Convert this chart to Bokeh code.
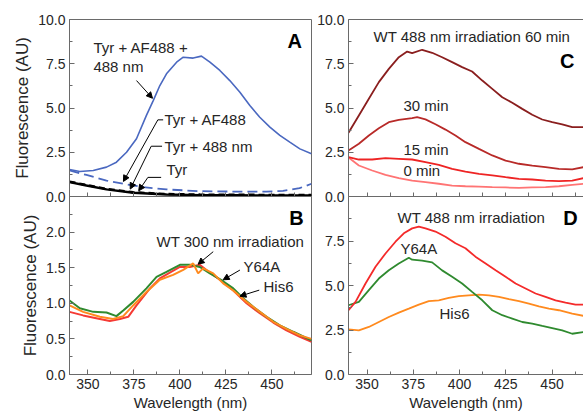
from bokeh.plotting import figure
from bokeh.layouts import column, row
from bokeh.models import Range1d, FixedTicker, NumeralTickFormatter, Arrow, NormalHead, LinearAxis
from bokeh.core.properties import value
from bokeh.embed import file_html
from bokeh.resources import INLINE

# ---------------- data ----------------
# Panel A
a_nm_blue = [340, 345.6, 352.9, 360.1, 365.5, 371.0, 376.4, 381.8, 385.5, 389.1, 392.7, 398.2, 401.8,
             407.2, 411.7, 416.3, 421.7, 427.1, 432.6, 438.0, 443.4, 448.9, 454.3, 459.7, 465.2, 471.5]
a_tyr_af_irr = [1.53, 1.41, 1.47, 1.66, 1.94, 2.5, 3.26, 4.58, 5.42, 6.27, 6.93, 7.59, 7.87,
                7.82, 7.93, 7.59, 7.12, 6.55, 5.89, 5.14, 4.48, 3.92, 3.45, 3.07, 2.69, 2.41]
a_nm_dash = [340, 349.2, 360.1, 369.2, 380.0, 392.7, 410.8, 429.0, 447.0, 456.0, 465.0, 471.5]
a_tyr_af = [1.47, 1.22, 0.90, 0.72, 0.53, 0.40, 0.30, 0.28, 0.28, 0.32, 0.47, 0.72]
a_nm_black = [340, 349.2, 360.1, 374.6, 392.7, 410.8, 430.0, 450.0, 471.5]
a_tyr = [0.81, 0.62, 0.40, 0.21, 0.11, 0.08, 0.07, 0.06, 0.06]
a_tyr_irr = [0.84, 0.65, 0.43, 0.24, 0.14, 0.11, 0.10, 0.09, 0.09]

# Panel B
b_nm_y64a = [340, 345.6, 352.9, 360.1, 365.5, 369.2, 374.6, 381.8, 387.3, 392.7, 400.0, 405.4, 410.8,
             416.3, 423.5, 429.0, 434.4, 439.8, 447.1, 454.3, 461.6, 471.5]
b_y64a = [1.04, 0.93, 0.88, 0.87, 0.82, 0.90, 1.02, 1.21, 1.37, 1.44, 1.54, 1.54, 1.51,
          1.42, 1.31, 1.21, 1.07, 0.95, 0.81, 0.69, 0.60, 0.48]
b_nm_wt = [340, 347.4, 356.5, 361.9, 367.4, 371.9, 376.4, 383.7, 389.1, 394.5, 400.0, 405.4, 410.8,
           416.3, 421.7, 429.0, 436.2, 443.4, 450.7, 457.9, 465.2, 471.5]
b_wt = [0.88, 0.83, 0.78, 0.75, 0.78, 0.81, 0.97, 1.21, 1.35, 1.43, 1.51, 1.51, 1.54,
        1.43, 1.33, 1.18, 1.00, 0.86, 0.73, 0.62, 0.53, 0.46]
b_nm_his6 = [340, 347.4, 356.5, 363.7, 369.2, 374.6, 381.8, 389.1, 396.3, 401.8, 407.2, 409.9, 412.6,
             418.1, 423.5, 429.0, 436.2, 443.4, 450.7, 457.9, 465.2, 471.5]
b_his6 = [0.97, 0.88, 0.81, 0.78, 0.82, 0.97, 1.16, 1.33, 1.40, 1.47, 1.56, 1.42, 1.49,
          1.42, 1.28, 1.18, 1.02, 0.88, 0.74, 0.64, 0.55, 0.50]

# Panel C
c_nm_60 = [340, 345.6, 351.0, 356.4, 361.8, 367.2, 371.7, 374.4, 379.8, 385.2, 390.6, 396.0, 401.4,
           406.8, 412.3, 417.7, 423.1, 428.5, 433.9, 439.3, 444.7, 450.1, 455.5, 460.9, 467.2]
c_60min = [3.6, 4.58, 5.52, 6.46, 7.21, 7.87, 8.19, 8.10, 8.29, 8.12, 7.87, 7.59, 7.31,
           7.06, 6.55, 6.08, 5.61, 5.3, 4.95, 4.62, 4.35, 4.2, 4.08, 3.92, 3.92]
c_nm_30 = [340, 345.6, 351.0, 356.4, 361.8, 367.2, 374.4, 377.1, 381.6, 387.0, 392.4, 397.8, 403.2,
           410.5, 417.7, 424.9, 432.1, 439.3, 446.5, 453.7, 460.9, 467.2]
c_30min = [2.6, 2.98, 3.45, 3.85, 4.2, 4.33, 4.43, 4.48, 4.36, 4.08, 3.78, 3.45, 3.07,
           2.69, 2.32, 2.03, 1.85, 1.75, 1.66, 1.56, 1.53, 1.66]
c_nm_low = [340, 345.6, 352.8, 360.0, 367.2, 374.4, 381.6, 388.8, 396.0, 403.2, 410.5, 417.7, 424.9,
            432.1, 439.3, 446.5, 453.7, 460.9, 467.2]
c_15min = [2.22, 2.09, 2.09, 2.17, 2.13, 2.09, 1.94, 1.79, 1.56, 1.41, 1.28, 1.19, 1.09,
           1.0, 0.96, 0.9, 0.87, 0.9, 1.04]
c_0min = [2.2, 1.75, 1.47, 1.22, 1.04, 0.9, 0.81, 0.72, 0.62, 0.58, 0.56, 0.53, 0.51,
          0.49, 0.51, 0.53, 0.58, 0.66, 0.72]

# Panel D
d_nm_wt = [340, 343.8, 349.2, 354.6, 360.0, 365.4, 369.9, 374.4, 378.0, 381.6, 387.0, 392.4, 397.8,
           403.2, 408.6, 414.1, 419.5, 424.9, 430.3, 435.7, 441.1, 446.5, 451.9, 457.3, 462.7, 467.2]
d_wt = [3.61, 4.08, 5.11, 6.05, 6.8, 7.46, 7.93, 8.21, 8.31, 8.21, 8.03, 7.74, 7.37,
        7.09, 6.62, 6.24, 5.86, 5.49, 5.11, 4.83, 4.55, 4.36, 4.17, 4.04, 3.93, 3.93]
d_nm_y64a = [340, 345.6, 351.0, 356.4, 361.8, 367.2, 372.6, 374.4, 379.8, 385.2, 390.6, 396.0, 401.4,
             406.8, 412.3, 417.7, 423.1, 428.5, 433.9, 439.3, 444.7, 450.1, 455.5, 460.9, 467.2]
d_y64a = [3.89, 4.08, 4.74, 5.39, 5.86, 6.24, 6.56, 6.45, 6.40, 6.30, 5.85, 5.49, 5.11,
          4.64, 4.17, 3.61, 3.33, 3.14, 2.95, 2.86, 2.73, 2.61, 2.48, 2.29, 2.39]
d_nm_his6 = [340, 345.6, 351.0, 356.4, 361.8, 367.2, 372.6, 378.0, 383.4, 388.8, 394.2, 399.6,
             405.0, 410.5, 415.9, 421.3, 426.7, 432.1, 437.5, 442.9, 448.3, 453.7, 460.9, 467.2]
d_his6 = [2.54, 2.48, 2.67, 2.95, 3.23, 3.48, 3.70, 3.93, 4.12, 4.17, 4.3, 4.4,
          4.45, 4.49, 4.45, 4.36, 4.23, 4.12, 3.98, 3.83, 3.70, 3.61, 3.42, 3.29]

# tick values
x_ticks = [350, 375, 400, 425, 450]
x_minor = [362.5, 387.5, 412.5, 437.5, 462.5]
x_all = [350, 362.5, 375, 387.5, 400, 412.5, 425, 437.5, 450, 462.5]
y10_ticks = [0, 2.5, 5, 7.5, 10]
y10_minor = [1.25, 3.75, 6.25, 8.75]
yb_ticks = [0, 0.5, 1.0, 1.5, 2.0]
yb_minor = [0.25, 0.75, 1.25, 1.75, 2.25]
yd_ticks = [0, 2.5, 5, 7.5]

# annotation texts
a_text = ["Tyr + AF488 +", "488 nm", "Tyr + AF488", "Tyr + 488 nm", "Tyr"]
a_text_x = [353.0, 353.0, 391.6, 391.6, 392.7]
a_text_y = [8.42, 7.34, 4.35, 2.84, 1.55]
b_text = ["WT 300 nm irradiation", "Y64A", "His6"]
b_text_x = [387.3, 434.6, 445.4]
b_text_y = [1.866, 1.513, 1.231]
c_text = ["WT 488 nm irradiation 60 min", "30 min", "15 min", "0 min"]
c_text_x = [353.5, 369.7, 369.7, 369.7]
c_text_y = [9.06, 5.14, 2.66, 1.47]
d_text = ["WT 488 nm irradiation", "Y64A", "His6"]
d_text_x = [366.5, 368.1, 389.2]
d_text_y = [8.82, 7.09, 3.42]

FONT = "Liberation Sans"
AXC = "#6a6a6a"
TXC = "#262626"


def style_axis(ax, ticks, minor, fmt=None, tick_len=(5, 3)):
    ax.ticker = FixedTicker(ticks=ticks, minor_ticks=minor)
    ax.axis_line_color = AXC
    ax.major_tick_line_color = AXC
    ax.minor_tick_line_color = AXC
    ax.major_tick_in = tick_len[0]
    ax.major_tick_out = 0
    ax.minor_tick_in = tick_len[1]
    ax.minor_tick_out = 0
    ax.major_label_text_font = FONT
    ax.major_label_text_color = TXC
    ax.major_label_text_font_size = "14px"
    ax.major_label_standoff = 4
    ax.axis_label_text_font = FONT
    ax.axis_label_text_font_style = "normal"
    ax.axis_label_text_color = TXC
    if fmt:
        ax.formatter = NumeralTickFormatter(format=fmt)


def make(width, height, xr, yr, bl, br, bt, bb, outline):
    p = figure(width=width, height=height, x_range=Range1d(*xr), y_range=Range1d(*yr),
               output_backend="svg", toolbar_location=None,
               min_border_left=bl, min_border_right=br, min_border_top=bt, min_border_bottom=bb)
    p.xgrid.visible = False
    p.ygrid.visible = False
    p.outline_line_color = AXC if outline else None
    p.background_fill_color = "white"
    p.background_fill_alpha = 0
    p.border_fill_alpha = 0
    return p


def add_text(p, xs, ys, texts, size="15px", bold=False, align="left"):
    p.text(x=xs, y=ys, text=texts, text_font=value(FONT), text_font_size=value(size),
           text_color=TXC if not bold else "black", text_baseline="middle", text_align=align,
           text_font_style="bold" if bold else "normal")


def add_arrow(p, x0, y0, x1, y1):
    p.add_layout(Arrow(end=NormalHead(size=6, line_color="black", fill_color="black", line_width=1),
                       x_start=x0, y_start=y0, x_end=x1, y_end=y1,
                       line_color="black", line_width=1))


LEFT_XR = (340, 471.5)
RIGHT_XR = (340, 467.0)
OVER = 10  # bottom border of the top panels that the lower panels overlap

# ---------------- Panel A ----------------
pA = make(313, 196 + OVER, LEFT_XR, (0, 10), 69, 2, 19, OVER, True)
style_axis(pA.xaxis[0], [], x_all, tick_len=(4, 4))
style_axis(pA.yaxis[0], y10_ticks, y10_minor, fmt="0.0")
pA.yaxis[0].axis_label = "Fluorescence (AU)"
pA.yaxis[0].axis_label_text_font_size = "17px"
pA.yaxis[0].axis_label_standoff = 3
pA.line(a_nm_black, a_tyr, line_color="black", line_width=2.4)
pA.line(a_nm_black, a_tyr_irr, line_color="black", line_width=2.4, line_dash="6 4")
pA.line(a_nm_dash, a_tyr_af, line_color="#4a68c0", line_width=1.8, line_dash="10 5")
pA.line(a_nm_blue, a_tyr_af_irr, line_color="#4a68c0", line_width=1.6)
add_text(pA, a_text_x, a_text_y, a_text)
add_text(pA, [462.4], [8.81], ["A"], size="20px", bold=True, align="center")
add_arrow(pA, 376.4, 6.55, 385.1, 5.55)
pA.segment(x0=[390.9, 390.3, 389.8], y0=[4.33, 2.84, 1.08],
           x1=[388.0, 384.4, 382.6], y1=[4.33, 2.84, 1.08], line_color="black", line_width=1)
add_arrow(pA, 388.0, 4.33, 369.3, 0.85)
add_arrow(pA, 384.4, 2.84, 373.0, 0.42)
add_arrow(pA, 382.6, 1.08, 377.6, 0.32)

# ---------------- Panel B ----------------
pB = make(313, 218, LEFT_XR, (0, 2.5), 69, 2, 0, 40, True)
style_axis(pB.xaxis[0], x_ticks, x_minor)
style_axis(pB.yaxis[0], yb_ticks, yb_minor, fmt="0.0")
pB.yaxis[0].axis_label = "Fluorescence (AU)"
pB.yaxis[0].axis_label_text_font_size = "17px"
pB.yaxis[0].axis_label_standoff = 3
pB.xaxis[0].axis_label = "Wavelength (nm)"
pB.xaxis[0].axis_label_text_font_size = "15px"
pB.xaxis[0].axis_label_standoff = 2
pB.line(b_nm_wt, b_wt, line_color="#f53a34", line_width=2)
pB.line(b_nm_y64a, b_y64a, line_color="#2f8a2f", line_width=2)
pB.line(b_nm_his6, b_his6, line_color="#ff8a1e", line_width=2)
add_text(pB, b_text_x, b_text_y, b_text)
add_text(pB, [463.4], [2.2], ["B"], size="20px", bold=True, align="center")
add_arrow(pB, 418.1, 1.725, 409.9, 1.55)
add_arrow(pB, 432.6, 1.467, 423.5, 1.33)
add_arrow(pB, 443.1, 1.185, 432.6, 1.10)

# ---------------- Panel C ----------------
pC = make(270, 196 + OVER, RIGHT_XR, (0, 10), 35, 0, 19, OVER, False)
style_axis(pC.xaxis[0], [], x_all, tick_len=(4, 4))
style_axis(pC.yaxis[0], y10_ticks, y10_minor, fmt="0.0")
top = LinearAxis(axis_line_color=AXC, major_tick_in=0, major_tick_out=0, minor_tick_in=0,
                 minor_tick_out=0, ticker=FixedTicker(ticks=[], minor_ticks=[]))
pC.add_layout(top, "above")
pC.line(c_nm_low, c_0min, line_color="#ff7474", line_width=1.8)
pC.line(c_nm_low, c_15min, line_color="#ee2424", line_width=1.8)
pC.line(c_nm_30, c_30min, line_color="#b82a28", line_width=1.8)
pC.line(c_nm_60, c_60min, line_color="#8a1e1e", line_width=1.8)
add_text(pC, c_text_x, c_text_y, c_text)
add_text(pC, [458.2], [7.68], ["C"], size="20px", bold=True, align="center")

# ---------------- Panel D ----------------
pD = make(270, 218, RIGHT_XR, (0, 10), 35, 0, 0, 40, False)
style_axis(pD.xaxis[0], x_ticks, x_minor)
style_axis(pD.yaxis[0], yd_ticks, y10_minor, fmt="0.0")
pD.xaxis[0].axis_label = "Wavelength (nm)"
pD.xaxis[0].axis_label_text_font_size = "15px"
pD.xaxis[0].axis_label_standoff = 2
pD.line(d_nm_his6, d_his6, line_color="#ff8a1e", line_width=1.8)
pD.line(d_nm_y64a, d_y64a, line_color="#2f8a2f", line_width=1.8)
pD.line(d_nm_wt, d_wt, line_color="#f42a2a", line_width=1.8)
add_text(pD, d_text_x, d_text_y, d_text)
add_text(pD, [460.0], [8.82], ["D"], size="20px", bold=True, align="center")

layout = column(row(pA, pC), row(pB, pD, margin=(-OVER, 0, 0, 0)))
open("out.html", "w").write(file_html(layout, INLINE))
